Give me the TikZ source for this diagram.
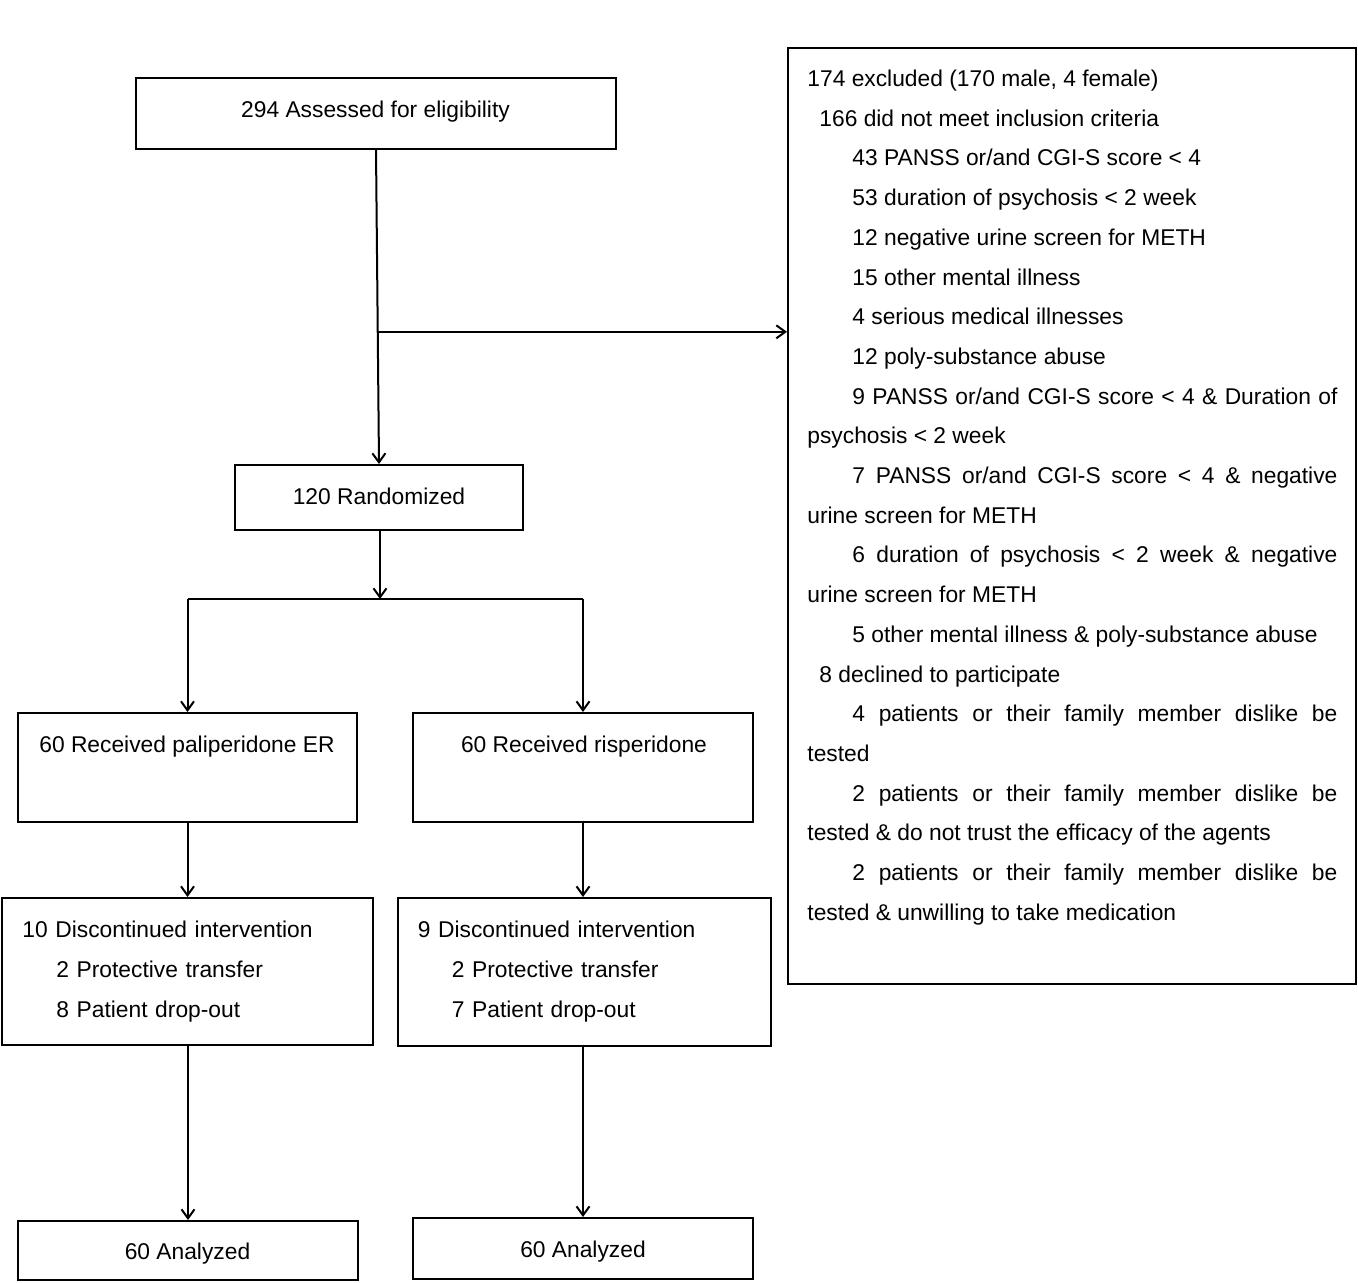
\documentclass[tikz,border=0pt]{standalone}
\usepackage{fontspec}
\setmainfont{Liberation Sans}
\usetikzlibrary{arrows.meta,calc}
\begin{document}
\begin{tikzpicture}[x=0.5pt,y=-0.5pt,
  box/.style={draw, line width=1pt, inner sep=0pt},
  txt/.style={font=\fontsize{11.4}{20}\selectfont, inner sep=0pt},
  arr/.style={line width=1pt, -{Straight Barb[length=4.5pt,width=6.5pt,line width=1pt]}},
  ln/.style={line width=1pt}]
\useasboundingbox (0,0) rectangle (1358,1282);

% boxes
\node[box, minimum width=240pt, minimum height=35.5pt] (A) at (376,113.5) {};
\node[txt, anchor=base] (At) at (375.5,117) {294 Assessed for eligibility};

\node[box, minimum width=284pt, minimum height=468pt] (R) at (1072,516) {};

\node[box, minimum width=144pt, minimum height=32.5pt] (Rand) at (379,497.5) {};
\node[txt, anchor=base] (Randt) at (379,504) {120 Randomized};

\node[box, minimum width=169.5pt, minimum height=54.5pt] (Pali) at (187.5,767.5) {};
\node[txt, anchor=base] (Palit) at (187,752) {60 Received paliperidone ER};

\node[box, minimum width=170pt, minimum height=54.5pt] (Risp) at (583,767.5) {};
\node[txt, anchor=base] (Rispt) at (584,752) {60 Received risperidone};

\node[box, minimum width=185.5pt, minimum height=73.5pt] (DL) at (187.5,971.5) {};
\node[txt, anchor=base west, text width=180pt, align=left] (DLt) at (22,937)
  {10 Discontinued intervention\\\hspace*{17pt}2 Protective transfer\\\hspace*{17pt}8 Patient drop-out};

\node[box, minimum width=186.5pt, minimum height=74pt] (DR) at (584.5,972) {};
\node[txt, anchor=base west, text width=180pt, align=left] (DRt) at (417.5,937)
  {9 Discontinued intervention\\\hspace*{17pt}2 Protective transfer\\\hspace*{17pt}7 Patient drop-out};

\node[box, minimum width=170pt, minimum height=29.5pt] (AL) at (188,1250.5) {};
\node[txt, anchor=base] (ALt) at (187.5,1259) {60 Analyzed};

\node[box, minimum width=170pt, minimum height=30.5pt] (AR) at (583,1248.5) {};
\node[txt, anchor=base] (ARt) at (583,1257) {60 Analyzed};

% exclusion text
\node[txt, anchor=base west, text width=265pt, align=justify,
      font=\fontsize{11.4}{19.85}\selectfont] (Rt) at (807,86.5) {%
\tolerance=10000\hbadness=10000
174 excluded (170 male, 4 female)\par
\hspace*{6pt}166 did not meet inclusion criteria\par
\hspace*{22.5pt}43 PANSS or/and CGI-S score < 4\par
\hspace*{22.5pt}53 duration of psychosis < 2 week\par
\hspace*{22.5pt}12 negative urine screen for METH\par
\hspace*{22.5pt}15 other mental illness\par
\hspace*{22.5pt}4 serious medical illnesses\par
\hspace*{22.5pt}12 poly-substance abuse\par
\hspace*{22.5pt}9 PANSS or/and CGI-S score < 4 \& Duration of\linebreak psychosis < 2 week\par
\hspace*{22.5pt}7 PANSS or/and CGI-S score < 4 \& negative\linebreak urine screen for METH\par
\hspace*{22.5pt}6 duration of psychosis < 2 week \& negative\linebreak urine screen for METH\par
\hspace*{22.5pt}5 other mental illness \& poly-substance abuse\par
\hspace*{6pt}8 declined to participate\par
\hspace*{22.5pt}4 patients or their family member dislike be\linebreak tested\par
\hspace*{22.5pt}2 patients or their family member dislike be\linebreak tested \& do not trust the efficacy of the agents\par
\hspace*{22.5pt}2 patients or their family member dislike be\linebreak tested \& unwilling to take medication\par
};

% connectors
\draw[arr] (A.south) -- (Rand.north);
\coordinate (J) at ($(A.south)!0.579!(Rand.north)$);
\draw[arr] (J) -- (J -| R.west);
\coordinate (S) at (380,599);
\draw[arr] (Rand.south -| S) -- (S);
\coordinate (SL) at (187.5,599);
\coordinate (SR) at (583,599);
\draw[ln] (SL) -- (SR);
\draw[arr] (SL) -- (SL |- Pali.north);
\draw[arr] (SR) -- (SR |- Risp.north);
\draw[arr] (Pali.south) -- (Pali.south |- DL.north);
\draw[arr] (Risp.south) -- (Risp.south |- DR.north);
\draw[arr] (DL.south -| AL.north) -- (AL.north);
\draw[arr] (DR.south -| AR.north) -- (AR.north);
\end{tikzpicture}
\end{document}
